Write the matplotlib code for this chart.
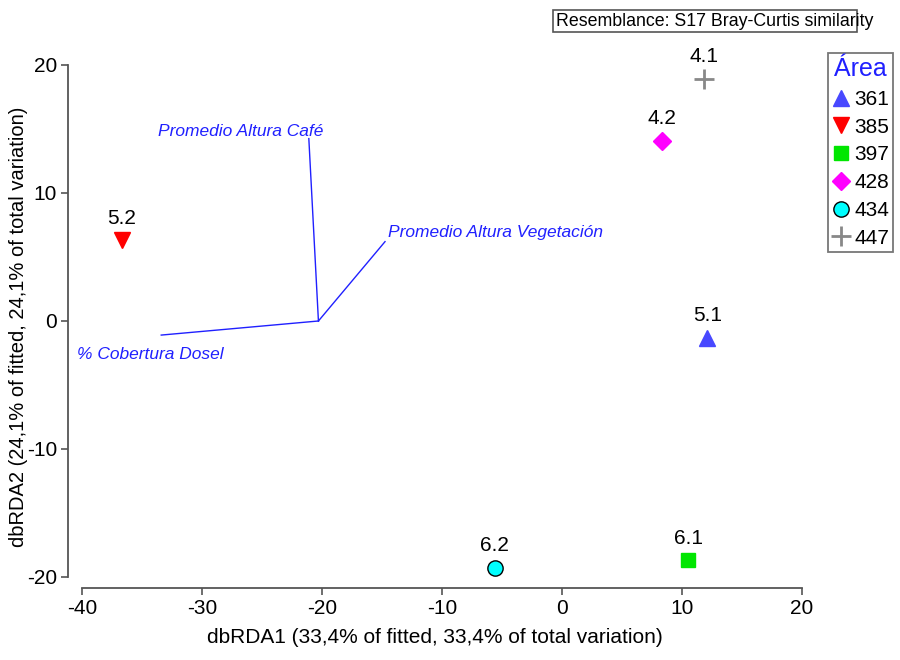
import matplotlib
matplotlib.use('Agg')
import matplotlib.pyplot as plt
from matplotlib.lines import Line2D
from matplotlib.patches import Rectangle

plt.rcParams['font.family'] = ['Liberation Sans', 'DejaVu Sans']
plt.rcParams['axes.unicode_minus'] = False

# samples
areas = ['361', '385', '397', '428', '434', '447']
site_labels = ['5.1', '5.2', '6.1', '4.2', '6.2', '4.1']
db1 = [12.1, -36.7, 10.5, 8.3, -5.6, 11.8]
db2 = [-1.3, 6.3, -18.7, 14.1, -19.3, 18.9]

# predictor vectors
vec_names = ['Promedio Altura Café', 'Promedio Altura Vegetación', '% Cobertura Dosel']
vec_origin = (-20.3, 0.0)
vec_x = [-21.1, -14.75, -33.4]
vec_y = [14.25, 6.2, -1.1]

x_ticks = [-40, -30, -20, -10, 0, 10, 20]
y_ticks = [-20, -10, 0, 10, 20]

styles = {
    '361': dict(marker='^', color='#4848ff', mec='#4848ff', ms=12),
    '385': dict(marker='v', color='#ff0000', mec='#ff0000', ms=12),
    '397': dict(marker='s', color='#00e600', mec='#00e600', ms=10),
    '428': dict(marker='D', color='#ff00ff', mec='#ff00ff', ms=9),
    '434': dict(marker='o', color='#00ffff', mec='black', ms=11, mew=1),
    '447': dict(marker='+', color='#888888', mec='#888888', ms=14, mew=2),
}

fig = plt.figure(figsize=(9, 6.6), dpi=100)
ax = fig.add_axes([68/900, 72/660, 734/900, 523/660])
ax.set_xlim(-41.17, 20)
ax.set_ylim(-20.86, 20)

# vectors
for nm, vx, vy in zip(vec_names, vec_x, vec_y):
    ax.plot([vec_origin[0], vx], [vec_origin[1], vy], color='#2020ff', lw=1)
ax.text(-19.9, 14.8, vec_names[0], color='#2020ff', style='italic',
        fontsize=12.5, ha='right', va='center')
ax.text(-14.5, 6.95, vec_names[1], color='#2020ff', style='italic',
        fontsize=12.5, ha='left', va='center')
ax.text(-34.3, -2.6, vec_names[2], color='#2020ff', style='italic',
        fontsize=12.5, ha='center', va='center')

# points
for a, lab, x, y in zip(areas, site_labels, db1, db2):
    st = styles[a]
    ax.plot([x], [y], ls='none', clip_on=False, zorder=3, **st)
    ax.annotate(lab, (x, y), xytext=(0, 16), textcoords='offset points',
                ha='center', va='center', fontsize=15, annotation_clip=False)

for s in ['top', 'right']:
    ax.spines[s].set_visible(False)
for s in ['left', 'bottom']:
    ax.spines[s].set_color('#555555')
    ax.spines[s].set_linewidth(1.3)
ax.spines['left'].set_bounds(-20, 20)
ax.spines['bottom'].set_bounds(-40, 20)
ax.set_xticks(x_ticks)
ax.set_yticks(y_ticks)
ax.tick_params(direction='out', length=5, width=1.2, color='#555555',
               labelsize=15, pad=3)

ax.set_xlabel('dbRDA1 (33,4% of fitted, 33,4% of total variation)', fontsize=15, labelpad=7)
ax.set_ylabel('dbRDA2 (24,1% of fitted, 24,1% of total variation)', fontsize=14.5, labelpad=-1)

# legend
handles = [Line2D([], [], ls='none', **styles[a]) for a in areas]
leg = fig.legend(handles, areas, title='Área', loc='upper left',
                 bbox_to_anchor=(828/900, 1 - 53/660), frameon=True, fancybox=False,
                 fontsize=15, title_fontsize=18, handlelength=0.8, handletextpad=0.25,
                 borderpad=0.2, labelspacing=0.42, borderaxespad=0)
leg.get_title().set_color('#2020ff')
leg.get_frame().set_edgecolor('#555555')
leg.get_frame().set_linewidth(1.3)

# resemblance box
fig.patches.append(Rectangle((553/900, 1 - 32/660), 304/900, 22/660,
                             transform=fig.transFigure, fill=False,
                             edgecolor='#555555', lw=1.2))
fig.text(556/900, 1 - 21/660, 'Resemblance: S17 Bray-Curtis similarity',
         fontsize=12.8, ha='left', va='center')

fig.savefig('out.png', dpi=100)
